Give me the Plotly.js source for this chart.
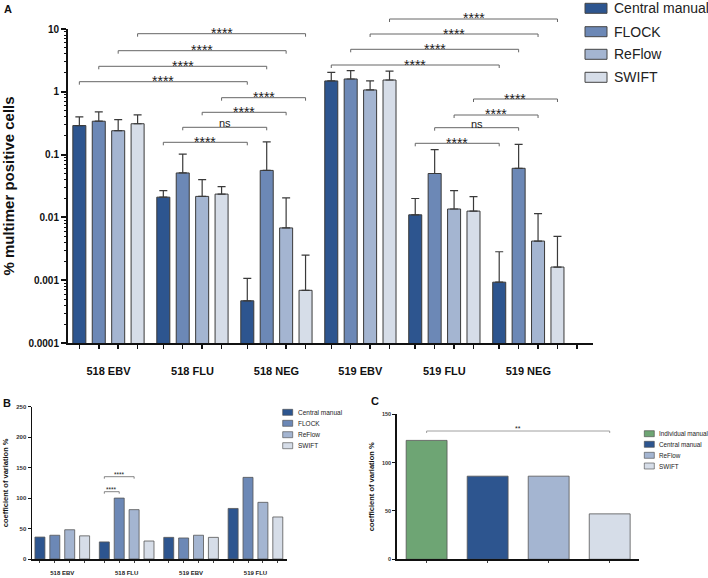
<!DOCTYPE html>
<html><head><meta charset="utf-8">
<script src="https://cdn.plot.ly/plotly-3.0.1.min.js"></script>
<style>html,body{margin:0;padding:0;background:#fff}#chart{width:708px;height:578px}</style>
</head><body><div id="chart"></div>
<script>
const W = 708, H = 578;
const FONT = 'Liberation Sans, Arial, Helvetica, sans-serif';

// ---------- Panel A data ----------
const groupsA = ['518 EBV', '518 FLU', '518 NEG', '519 EBV', '519 FLU', '519 NEG'];
const seriesA = ['Central manual', 'FLOCK', 'ReFlow', 'SWIFT'];
const centralA      = [0.29, 0.021, 0.00047, 1.49, 0.011, 0.00093];
const centralAUpper = [0.40, 0.0266, 0.00107, 2.04, 0.020, 0.00284];
const flockA        = [0.34, 0.051, 0.056, 1.60, 0.050, 0.0605];
const flockAUpper   = [0.48, 0.102, 0.16, 2.17, 0.12, 0.146];
const reflowA       = [0.24, 0.0216, 0.0068, 1.07, 0.0136, 0.0042];
const reflowAUpper  = [0.36, 0.040, 0.0204, 1.49, 0.0266, 0.0115];
const swiftA        = [0.31, 0.0235, 0.00069, 1.54, 0.0126, 0.00162];
const swiftAUpper   = [0.43, 0.031, 0.0025, 2.14, 0.0214, 0.0050];
const yTickValsA = [0.0001, 0.001, 0.01, 0.1, 1, 10];
const yTickTextA = ['0.0001', '0.001', '0.01', '0.1', '1', '10'];
// brackets: [group from, bar from, group to, bar to, label]
const bracketsA = [
  [0, 3, 2, 3, '****'], [0, 2, 2, 2, '****'], [0, 1, 2, 1, '****'], [0, 0, 2, 0, '****'],
  [1, 3, 2, 3, '****'], [1, 2, 2, 2, '****'], [1, 1, 2, 1, 'ns'], [1, 0, 2, 0, '****'],
  [3, 3, 5, 3, '****'], [3, 2, 5, 2, '****'], [3, 1, 5, 1, '****'], [3, 0, 5, 0, '****'],
  [4, 3, 5, 3, '****'], [4, 2, 5, 2, '****'], [4, 1, 5, 1, 'ns'], [4, 0, 5, 0, '****']
];
const bracketRowsA = [33.7, 50.7, 66.3, 81.7, 97.7, 112.3, 127.3, 142.3,
                      19, 34, 49.3, 65, 99, 115, 127.7, 143.3];

// ---------- Panel B data ----------
const groupsB = ['518 EBV', '518 FLU', '519 EBV', '519 FLU'];
const centralB = [36, 28, 35.5, 83];
const flockB   = [39, 100, 34.5, 134];
const reflowB  = [48, 81, 39, 93];
const swiftB   = [38, 29.5, 35.5, 69];
const yTickValsB = [0, 50, 100, 150, 200, 250];
const bracketsB = [[1, 0, 1, 1, '****'], [1, 0, 1, 2, '****']];
const bracketRowsB = [491.7, 476.7];

// ---------- Panel C data ----------
const categoriesC = ['Individual manual', 'Central manual', 'ReFlow', 'SWIFT'];
const valuesC = [123, 86, 86, 47];
const yTickValsC = [0, 50, 100, 150];
const bracketsC = [[0, 3, '**']];
const bracketRowsC = [431];

const colors = {
  'Individual manual': '#6EA574',
  'Central manual': '#2D558F',
  'FLOCK': '#6C88B6',
  'ReFlow': '#A4B5D1',
  'SWIFT': '#D6DDE8'
};
const EDGE = '#3a3a3a';

// ---------- helpers ----------
const BARGAP = 0.075;
const barCenter = (g, b, n) => g + (b - (n - 1) / 2) * (1 - BARGAP) / n;
const py2p = py => 1 - py / H;
const px2p = px => px / W;

const traces = [];
const valsA = [centralA, flockA, reflowA, swiftA];
const upA = [centralAUpper, flockAUpper, reflowAUpper, swiftAUpper];
seriesA.forEach((name, i) => {
  traces.push({
    type: 'bar', name: name, x: groupsA, y: valsA[i], xaxis: 'x', yaxis: 'y',
    marker: {color: colors[name], line: {color: EDGE, width: 1}},
    error_y: {type: 'data', symmetric: false,
      array: upA[i].map((u, k) => u - valsA[i][k]),
      arrayminus: valsA[i].map(() => 0),
      color: EDGE, thickness: 1.2, width: 4},
    showlegend: false, hoverinfo: 'skip'
  });
});
const valsB = [centralB, flockB, reflowB, swiftB];
seriesA.forEach((name, i) => {
  traces.push({
    type: 'bar', name: name, x: groupsB, y: valsB[i], xaxis: 'x2', yaxis: 'y2',
    marker: {color: colors[name], line: {color: '#555', width: 0.8}},
    showlegend: false, hoverinfo: 'skip'
  });
});
categoriesC.forEach((name, i) => {
  traces.push({
    type: 'bar', name: name, x: [name], y: [valuesC[i]], xaxis: 'x3', yaxis: 'y3',
    offsetgroup: 'c', width: 0.67,
    marker: {color: colors[name], line: {color: '#555', width: 0.8}},
    showlegend: false, hoverinfo: 'skip'
  });
});
// empty helper traces so the tick-mark overlay axes are drawn
traces.push({type: 'scatter', x: [], y: [], xaxis: 'x4', yaxis: 'y', showlegend: false, hoverinfo: 'skip'});
traces.push({type: 'scatter', x: [], y: [], xaxis: 'x', yaxis: 'y4', showlegend: false, hoverinfo: 'skip'});
traces.push({type: 'scatter', x: [], y: [], xaxis: 'x5', yaxis: 'y2', showlegend: false, hoverinfo: 'skip'});
traces.push({type: 'scatter', x: [], y: [], xaxis: 'x6', yaxis: 'y3', showlegend: false, hoverinfo: 'skip'});

// tick positions (axis furniture)
const barTicksA = [];
groupsA.forEach((g, gi) => seriesA.forEach((s, bi) => barTicksA.push(barCenter(gi, bi, 4))));
barTicksA.push(barCenter(groupsA.length - 1, 4, 4));
const barTicksB = [];
groupsB.forEach((g, gi) => seriesA.forEach((s, bi) => barTicksB.push(barCenter(gi, bi, 4))));
const minorA = [];
for (let e = -4; e < 1; e++) for (let k = 2; k <= 9; k++) minorA.push(k * Math.pow(10, e));

const rangeA = [-0.482, 5.77], rangeB = [-0.47, 3.485], rangeC = [-0.49, 3.485];
const domXA = [px2p(68), px2p(593)], domYA = [py2p(343), py2p(29)];
const domXB = [px2p(32), px2p(286.7)], domYB = [py2p(559), py2p(406.7)];
const domXC = [px2p(396.7), px2p(639.3)], domYC = [py2p(559.3), py2p(414.3)];

const shapes = [], annotations = [];
function addBracket(xref, x0, x1, lineY, drop, label, fsize, dy, lw, col) {
  shapes.push({type: 'path', xref: xref, yref: 'paper',
    path: `M${x0},${py2p(lineY + drop)} L${x0},${py2p(lineY)} L${x1},${py2p(lineY)} L${x1},${py2p(lineY + drop)}`,
    line: {color: col, width: lw}});
  annotations.push({xref: xref, yref: 'paper', x: (x0 + x1) / 2, y: py2p(lineY - dy),
    text: label, showarrow: false, xanchor: 'center', yanchor: 'middle',
    font: {family: FONT, size: fsize, color: '#1a1a1a'}});
}
bracketsA.forEach((b, i) => {
  const ns = b[4] === 'ns';
  addBracket('x', barCenter(b[0], b[1], 4), barCenter(b[2], b[3], 4), bracketRowsA[i], 3,
    b[4], ns ? 11 : 14, ns ? 4 : 0.5, 1, '#666');
});
bracketsB.forEach((b, i) => {
  addBracket('x2', barCenter(b[0], b[1], 4), barCenter(b[2], b[3], 4), bracketRowsB[i], 2,
    b[4], 6.5, 2.7, 0.8, '#666');
});
bracketsC.forEach((b, i) => {
  addBracket('x3', b[0], b[1], bracketRowsC[i], 2, b[2], 7, 2.3, 0.8, '#888');
});

// manual legends
function addLegend(names, x0, boxW, boxH, rows, textX, fsize, lw) {
  names.forEach((n, i) => {
    shapes.push({type: 'rect', xref: 'paper', yref: 'paper',
      x0: px2p(x0), x1: px2p(x0 + boxW), y0: py2p(rows[i] + boxH / 2), y1: py2p(rows[i] - boxH / 2),
      fillcolor: colors[n], line: {color: '#444', width: lw}});
    annotations.push({xref: 'paper', yref: 'paper', x: px2p(textX), y: py2p(rows[i]),
      text: n, showarrow: false, xanchor: 'left', yanchor: 'middle',
      font: {family: FONT, size: fsize, color: '#222'}});
  });
}
addLegend(seriesA, 585, 22, 10, [8.3, 31.7, 54.3, 77.3], 612, 14, 1);
addLegend(seriesA, 282.7, 10, 6, [412.3, 423.3, 434.7, 445.7], 295.5, 6.5, 0.6);
addLegend(categoriesC, 644.3, 10, 6, [433.7, 444.3, 455.3, 466], 656.5, 6.3, 0.6);

// panel letters
[['A', 8, 9], ['B', 7, 403], ['C', 375, 401]].forEach(l => annotations.push({
  xref: 'paper', yref: 'paper', x: px2p(l[1]), y: py2p(l[2]), text: l[0], showarrow: false,
  xanchor: 'center', yanchor: 'middle', font: {family: FONT, size: 11, color: '#111', weight: 'bold'}
}));

const axBase = {showgrid: false, zeroline: false, fixedrange: true, linecolor: '#111', tickcolor: '#111'};
const layout = {
  width: W, height: H, margin: {l: 0, r: 0, t: 0, b: 0},
  paper_bgcolor: '#fff', plot_bgcolor: 'rgba(0,0,0,0)',
  font: {family: FONT, color: '#111'},
  barmode: 'group', bargap: BARGAP, bargroupgap: 0.33, showlegend: false,
  xaxis: Object.assign({}, axBase, {domain: domXA, range: rangeA, anchor: 'y', type: 'category',
    showline: true, linewidth: 2, ticks: '', ticklabelstandoff: 17,
    tickfont: {family: FONT, size: 11, color: '#111', weight: 'bold'}}),
  yaxis: Object.assign({}, axBase, {domain: domYA, type: 'log', range: [-4, 1], anchor: 'x',
    tickmode: 'array', tickvals: yTickValsA, ticktext: yTickTextA,
    ticks: 'outside', ticklen: 5, tickwidth: 2, showline: true, linewidth: 2,
    tickfont: {family: FONT, size: 10, color: '#111', weight: 'bold'},
    title: {text: '% multimer positive cells', standoff: 12,
      font: {family: FONT, size: 15, color: '#111', weight: 'bold'}}}),
  xaxis4: Object.assign({}, axBase, {overlaying: 'x', anchor: 'y', side: 'bottom', range: rangeA,
    tickmode: 'array', tickvals: barTicksA, ticks: 'outside', ticklen: 5, tickwidth: 1.5,
    showticklabels: false, showline: false}),
  yaxis4: Object.assign({}, axBase, {overlaying: 'y', anchor: 'x', side: 'left', type: 'log', range: [-4, 1],
    tickmode: 'array', tickvals: minorA, ticks: 'outside', ticklen: 3, tickwidth: 1,
    showticklabels: false, showline: false}),

  xaxis2: Object.assign({}, axBase, {domain: domXB, range: rangeB, anchor: 'y2', type: 'category',
    showline: true, linewidth: 1.5, ticks: '', ticklabelstandoff: 7,
    tickfont: {family: FONT, size: 6, color: '#222', weight: 'bold'}}),
  yaxis2: Object.assign({}, axBase, {domain: domYB, range: [0, 250], anchor: 'x2',
    tickmode: 'array', tickvals: yTickValsB, ticks: 'outside', ticklen: 3, tickwidth: 1,
    showline: true, linewidth: 1.5,
    tickfont: {family: FONT, size: 6, color: '#333', weight: 'bold'},
    title: {text: 'coefficient of variation %', standoff: 6,
      font: {family: FONT, size: 7.5, color: '#111', weight: 'bold'}}}),
  xaxis5: Object.assign({}, axBase, {overlaying: 'x2', anchor: 'y2', side: 'bottom', range: rangeB,
    tickmode: 'array', tickvals: barTicksB, ticks: 'outside', ticklen: 3, tickwidth: 0.8,
    showticklabels: false, showline: false}),

  xaxis3: Object.assign({}, axBase, {domain: domXC, range: rangeC, anchor: 'y3', type: 'category',
    showline: true, linewidth: 1.5, ticks: '', showticklabels: false}),
  yaxis3: Object.assign({}, axBase, {domain: domYC, range: [0, 150], anchor: 'x3',
    tickmode: 'array', tickvals: yTickValsC, ticks: 'outside', ticklen: 3, tickwidth: 1,
    showline: true, linewidth: 1.5,
    tickfont: {family: FONT, size: 5.5, color: '#333', weight: 'bold'},
    title: {text: 'coefficient of variation %', standoff: 6,
      font: {family: FONT, size: 7.5, color: '#111', weight: 'bold'}}}),
  xaxis6: Object.assign({}, axBase, {overlaying: 'x3', anchor: 'y3', side: 'bottom', range: rangeC,
    tickmode: 'array', tickvals: [0, 1, 2, 3], ticks: 'outside', ticklen: 3, tickwidth: 0.8,
    showticklabels: false, showline: false}),

  shapes: shapes, annotations: annotations
};

Plotly.newPlot('chart', traces, layout, {staticPlot: true, displayModeBar: false});
</script>
</body></html>
